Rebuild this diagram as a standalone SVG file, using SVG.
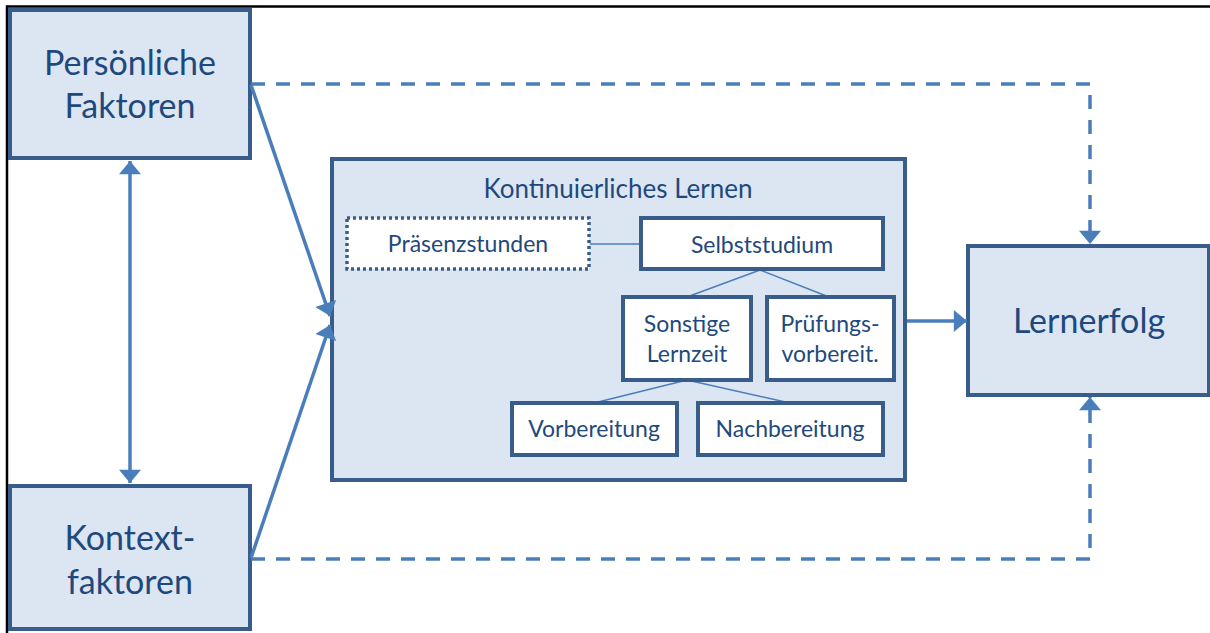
<svg xmlns="http://www.w3.org/2000/svg" width="1210" height="633" viewBox="0 0 1210 633">
  <style>
    .outer { fill: #dce6f2; stroke: #385d8a; stroke-width: 4; }
    .inner { fill: #ffffff; stroke: #385d8a; stroke-width: 4; }
    .dotted { fill: #ffffff; stroke: #385d8a; stroke-width: 3.5; stroke-dasharray: 3 3; }
    .big { font-family: Lato, "Liberation Sans", sans-serif; font-size: 34px; fill: #1f497d; text-anchor: middle; }
    .mid { font-family: Lato, "Liberation Sans", sans-serif; font-size: 26px; fill: #1f497d; text-anchor: middle; }
    .small { font-family: Lato, "Liberation Sans", sans-serif; font-size: 23px; fill: #1f497d; text-anchor: middle; }
    .flow { fill: none; stroke: #4a7ebb; stroke-width: 3.5; }
    .dash { fill: none; stroke: #4a7ebb; stroke-width: 3.5; stroke-dasharray: 14 11; }
    .tree { fill: none; stroke: #4a7ebb; stroke-width: 1.5; }
  </style>
  <defs>
    <marker id="head" markerUnits="userSpaceOnUse" markerWidth="22" markerHeight="22" viewBox="0 0 12 20" refX="12" refY="10" orient="auto-start-reverse">
      <path d="M0,0 L12,10 L0,20 Z" fill="#4a7ebb"/>
    </marker>
  </defs>

  <rect width="1210" height="633" fill="#ffffff"/>
  <!-- frame -->
  <path d="M7,633 V6.5 H1210" fill="none" stroke="#000000" stroke-width="2.5"/>

  <g id="persoenliche-faktoren">
    <rect class="outer" x="10" y="10" width="240" height="148"/>
    <text class="big" x="130" y="75">Persönliche</text>
    <text class="big" x="130" y="118">Faktoren</text>
  </g>

  <g id="kontextfaktoren">
    <rect class="outer" x="10" y="486" width="240" height="143"/>
    <text class="big" x="130" y="550">Kontext-</text>
    <text class="big" x="130" y="594">faktoren</text>
  </g>

  <g id="lernerfolg">
    <rect class="outer" x="968" y="246" width="241" height="149"/>
    <text class="big" x="1089" y="333">Lernerfolg</text>
  </g>

  <g id="kontinuierliches-lernen">
    <rect class="outer" x="332" y="159" width="573" height="321"/>
    <text class="mid" x="618" y="198">Kontinuierliches Lernen</text>
  </g>

  <!-- connectors, drawn over the container fill -->
  <g id="connectors">
    <line class="flow" x1="130" y1="161" x2="130" y2="483" marker-start="url(#head)" marker-end="url(#head)"/>
    <line class="flow" x1="251" y1="85" x2="330" y2="316" marker-end="url(#head)"/>
    <line class="flow" x1="251" y1="558" x2="330" y2="325" marker-end="url(#head)"/>
    <path class="dash" d="M251,84 H1090 V244" marker-end="url(#head)"/>
    <path class="dash" d="M251,559 H1090 V397" marker-end="url(#head)"/>
    <line class="flow" x1="907" y1="321" x2="967" y2="321" marker-end="url(#head)"/>
    <line class="tree" x1="590" y1="244" x2="641" y2="244"/>
    <line class="tree" x1="760" y1="270" x2="687" y2="297"/>
    <line class="tree" x1="760" y1="270" x2="829" y2="297"/>
    <line class="tree" x1="687" y1="380" x2="594" y2="403"/>
    <line class="tree" x1="687" y1="380" x2="790" y2="403"/>
  </g>

  <g id="praesenzstunden">
    <rect class="dotted" x="347" y="218" width="242" height="51"/>
    <text class="small" x="468" y="252">Präsenzstunden</text>
  </g>

  <g id="selbststudium">
    <rect class="inner" x="641" y="218" width="242" height="51"/>
    <text class="small" x="762" y="253">Selbststudium</text>
  </g>

  <g id="sonstige-lernzeit">
    <rect class="inner" x="623" y="297" width="128" height="83"/>
    <text class="small" x="687" y="332">Sonstige</text>
    <text class="small" x="687" y="362">Lernzeit</text>
  </g>

  <g id="pruefungsvorbereitung">
    <rect class="inner" x="767" y="297" width="127" height="83"/>
    <text class="small" x="830" y="332">Prüfungs-</text>
    <text class="small" x="830" y="362">vorbereit.</text>
  </g>

  <g id="vorbereitung">
    <rect class="inner" x="512" y="403" width="165" height="52"/>
    <text class="small" x="594" y="437">Vorbereitung</text>
  </g>

  <g id="nachbereitung">
    <rect class="inner" x="698" y="403" width="185" height="52"/>
    <text class="small" x="790" y="437">Nachbereitung</text>
  </g>
</svg>
